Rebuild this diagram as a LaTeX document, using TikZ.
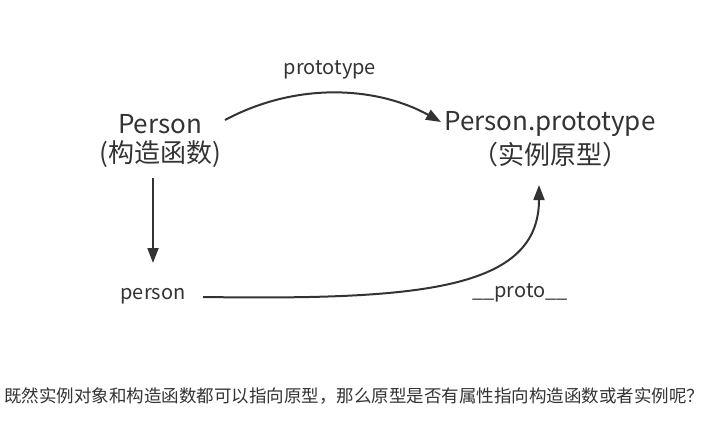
\documentclass[tikz,border=0pt]{standalone}
\usepackage{fontspec}
\setmainfont{Noto Sans CJK SC}
\usetikzlibrary{arrows.meta}
\definecolor{txt}{HTML}{333333}
\definecolor{ln}{HTML}{333333}
\begin{document}
\begin{tikzpicture}[x=1pt,y=-1pt,
  big/.style={text=txt,font=\fontsize{26}{30}\selectfont,inner sep=0pt,align=center},
  small/.style={text=txt,font=\fontsize{20}{24}\selectfont,inner sep=0pt},
  conn/.style={draw=ln,line width=2pt,-{Triangle[length=15pt,width=11pt]}}]
\useasboundingbox[fill=white] (0,0) rectangle (726,424);
\node[big] (ctor) at (160,124) {Person};
\node[big] (ctorcn) at (160,154) {(构造函数)};
\node[big] (proto) at (550,124) {Person.prototype};
\node[big] (protocn) at (550,155) {（实例原型）};
\node[small] (lblproto) at (330,70) {prototype};
\node[small] (inst) at (153,296) {person};
\node[small] (lblpp) at (520,293) {\_\_proto\_\_};
\node[text=txt,font=\fontsize{17.5}{20}\selectfont,inner sep=0pt,anchor=west] (q) at (4,396) {既然实例对象和构造函数都可以指向原型，那么原型是否有属性指向构造函数或者实例呢？};
\coordinate (a1) at (225,120);
\coordinate (a2) at (441,122);
\draw[conn] (a1) .. controls (300,80) and (380,88) .. (a2);
\coordinate (d1) at (153,178);
\coordinate (d2) at (153,263);
\draw[conn] (d1) -- (d2);
\coordinate (b1) at (203,297);
\coordinate (b2) at (539,185);
\draw[conn] (b1) .. controls (420,300) and (539,290) .. (b2);
\end{tikzpicture}
\end{document}
